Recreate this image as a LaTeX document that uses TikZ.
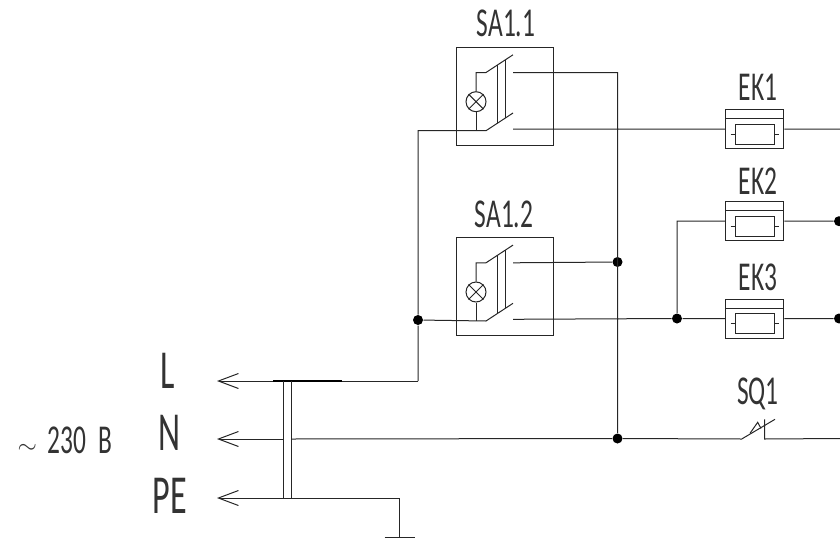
\documentclass[tikz,border=0pt]{standalone}
\usepackage{fontspec}
\setmainfont[FakeStretch=0.62]{Carlito}
\usetikzlibrary{%
  positioning
 ,calc
 ,arrows.meta
}
\tikzstyle{schem}=[x=1pt,y=-1pt,line width=1pt,draw=black!85,text=black!80]
\tikzstyle{wire}=[draw=black!85,line width=1pt]
\tikzstyle{lab}=[inner sep=0pt,font=\fontsize{41}{41}\selectfont]
\tikzstyle{biglab}=[inner sep=0pt,font=\fontsize{55}{55}\selectfont]
\tikzstyle{sw}=[rectangle,draw,inner sep=0pt,minimum width=97.3pt,minimum height=97.7pt]
\tikzstyle{heat}=[rectangle,draw,inner sep=0pt,minimum width=58.3pt,minimum height=39pt]
\tikzstyle{lamp}=[circle,draw,inner sep=0pt,minimum size=20pt]
\tikzstyle{junc}=[circle,fill=black,draw=none,inner sep=0pt,minimum size=10pt]
\tikzstyle{feed}=[{Straight Barb[length=20pt,width=15pt,line width=1pt]}-]
\begin{document}
\begin{tikzpicture}[schem]
  \useasboundingbox (0,0) rectangle (840,538);
  % switches
  \node[sw] (sa1) at (505.3,96.5) {};
  \node[sw] (sa2) at (505.3,286.8) {};
  \node[lab] (sa1lab) at (506,23.5) {SA1.1};
  \node[lab] (sa2lab) at (504,214.5) {SA1.2};
  \foreach \n in {sa1,sa2} {
    \coordinate (\n-up) at ($(\n.center)+(-19.3,-24)$);
    \coordinate (\n-low) at ($(\n.center)+(-19.3,34.2)$);
    \coordinate (\n-upc) at ($(\n.center)+(7.7,-24)$);
    \coordinate (\n-lowc) at ($(\n.center)+(7.7,32.5)$);
    \node[lamp] (\n-lamp) at ($(\n.center)+(-29.3,5.2)$) {};
    \draw (\n-lamp.45) -- (\n-lamp.225) (\n-lamp.135) -- (\n-lamp.315);
    \draw (\n-lamp.north) |- (\n-up) -- ++(27,-17.7);
    \draw (\n-lamp.south) -- (\n-lamp.south |- \n-low);
    \draw (\n-low) -- ++(27,-17.7);
    \draw ($(\n.center)+(-8.3,-31.5)$) -- ++(0,58);
    \draw ($(\n.center)+(0.4,-36.5)$) -- ++(0,58);
  }
  % heaters
  \node[heat] (ek1) at (754.8,129.2) {};
  \node[heat] (ek2) at (754.8,221.2) {};
  \node[heat] (ek3) at (754.8,318.5) {};
  \node[lab] (ek1lab) at (758,87) {EK1};
  \node[lab] (ek2lab) at (758,181) {EK2};
  \node[lab] (ek3lab) at (758,277) {EK3};
  \foreach \n in {ek1,ek2,ek3} {
    \draw ($(\n.north west)+(0,9.6)$) -- ($(\n.north east)+(0,9.6)$);
    \draw ($(\n.center)+(-19.6,-4.9)$) rectangle ($(\n.center)+(19.6,14.8)$);
    \draw ($(\n.center)+(-24.2,4.9)$) -- ++(4.6,0);
    \draw ($(\n.center)+(19.6,4.9)$) -- ++(4.6,0);
  }
  % junctions and free ends
  \node[junc] (j1) at (418,320) {};
  \node[junc] (j2) at (617.5,262) {};
  \node[junc] (j3) at (617.5,438.5) {};
  \node[junc] (j4) at (677,318.5) {};
  \node[junc] (j5) at (839,221.2) {};
  \node[junc] (j6) at (839,318.5) {};
  \coordinate (e1) at (840,129.2);
  \coordinate (e2) at (840,438.5);
  \coordinate (lend) at (217,381);
  \coordinate (nend) at (217,439);
  \coordinate (peend) at (217,498);
  \coordinate (lcor) at (418,381);
  \coordinate (gnd) at (399.3,537);
  % wiring
  \path[wire]
  (sa1-low) -| (j1)
  (j1) -- (sa2-low)
  (j1) -- (lcor)
  (sa1-upc) -| (j3)
  (sa2-upc) -- (j2)
  (sa1-lowc) -- (ek1.west)
  (ek1.east) -- (e1)
  (sa2-lowc) -- (j4)
  (j4) -- (ek3.west)
  (j4) |- (ek2.west)
  (ek2.east) -- (j5)
  (ek3.east) -- (j6);
  % inputs
  \draw[wire,feed] (lend) -- (lcor);
  \draw[wire,feed] (nend) -- (283.5,439);
  \draw[wire,feed] (peend) -| (gnd);
  \draw[line width=1.8pt,draw=black] (273,381) -- (342,381);
  \draw[wire] (283.5,381) -- (283.5,498) (291.5,381) -- (291.5,498);
  \draw[wire] (291.5,439) -- (j3);
  \draw[wire] (384.5,537) -- (414.5,537);
  % limit switch
  \coordinate (sq) at (741.7,439);
  \coordinate (sqc) at (764.7,439);
  \node[lab] (sq1lab) at (758,394) {SQ1};
  \draw[wire] (j3) -- (sq) -- (775,419.3);
  \draw (750,433.3) -- (757.7,422.3) -- (761,428.5);
  \draw[wire] (764.7,419.3) -- (sqc) -- (e2);
  % labels
  \node[biglab] (llab) at (168,371) {L};
  \node[biglab] (nlab) at (170,433) {N};
  \node[biglab] (pelab) at (170,496) {PE};
  \node[lab] (vlab) at (65,440) {$\sim$\hspace{11pt}230\hspace{12pt}B};
\end{tikzpicture}
\end{document}
